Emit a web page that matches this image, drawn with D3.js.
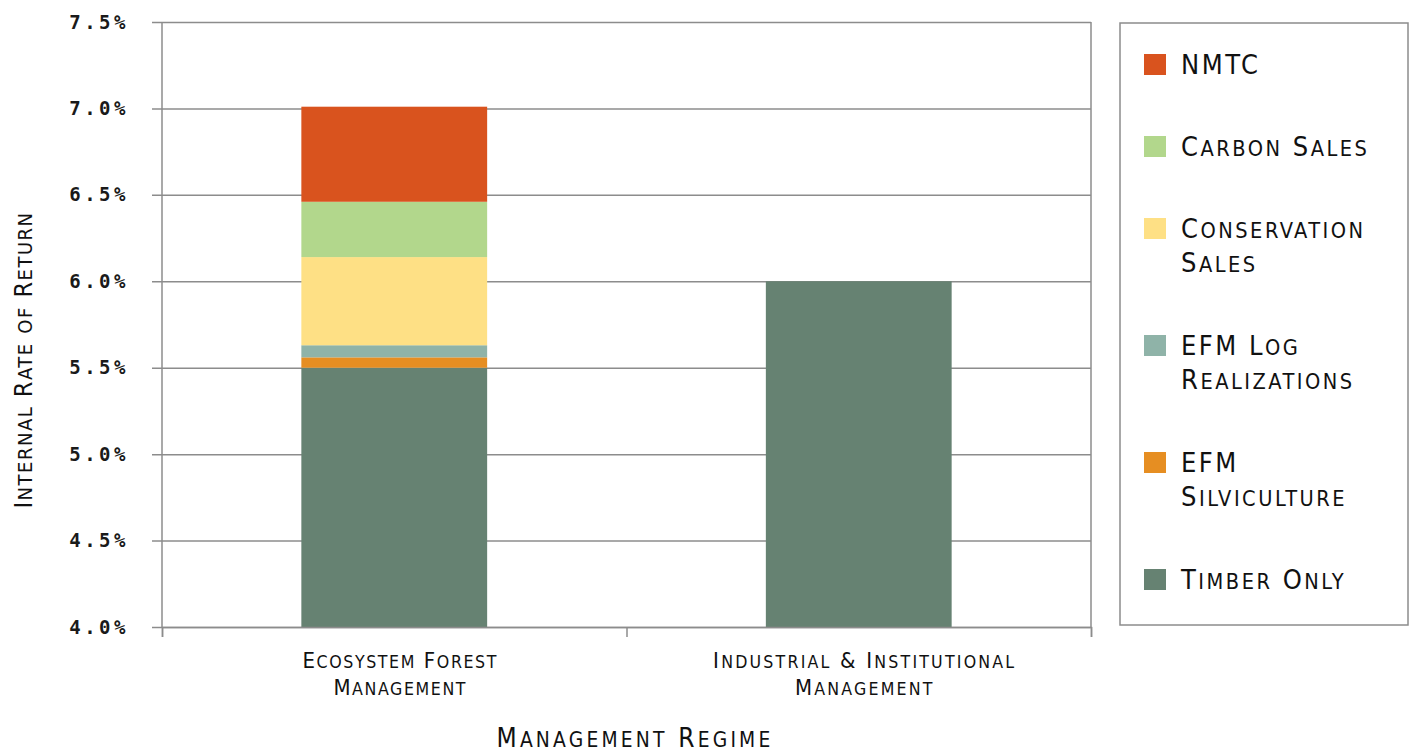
<!DOCTYPE html>
<html>
<head>
<meta charset="utf-8">
<script src="https://cdn.jsdelivr.net/npm/d3@7"></script>
<style>
    body { margin: 0; background: #fff; }
    .sc { font-family: "DejaVu Sans Condensed", "DejaVu Sans", sans-serif; fill: #111; }
    .ytick text { font-family: "DejaVu Sans Mono", monospace; font-weight: bold; font-size: 19px; letter-spacing: 3.5px; fill: #1a1a1a; }
</style>
</head>
<body>
<script>
// data (IRR in %)
const categories = ["Ecosystem Forest Management", "Industrial & Institutional Management"];
const categoryLines = [["Ecosystem Forest", "Management"], ["Industrial & Institutional", "Management"]];
const seriesKeys = ["timber", "silviculture", "logs", "conservation", "carbon", "nmtc"];
const timberOnly = [5.50, 6.00];
const efmSilviculture = [0.06, 0];
const efmLogRealizations = [0.07, 0];
const conservationSales = [0.51, 0];
const carbonSales = [0.32, 0];
const nmtc = [0.55, 0];
const yTicks = [4.0, 4.5, 5.0, 5.5, 6.0, 6.5, 7.0, 7.5];
const seriesColors = ["#668272", "#e68e22", "#8fb3a8", "#fee085", "#b2d78c", "#d9531e"];
const legendLabels = [["Timber Only"], ["EFM", "Silviculture"], ["EFM Log", "Realizations"], ["Conservation", "Sales"], ["Carbon Sales"], ["NMTC"]];

let margin = {top: 22, left: 162, right: 320, bottom: 125},
    width = 1411 - margin.left - margin.right,
    height = 752 - margin.top - margin.bottom;

let svg = d3.select("body").append("svg")
    .attr("width", 1411)
    .attr("height", 752);
let g = svg.append("g").attr("transform", "translate(" + margin.left + "," + margin.top + ")");

// small caps by hand: lowercase letters become smaller capitals
function smallCaps(textSel, str, size, x, y) {
    let runs = str.match(/[a-z]+|[^a-z]+/g) || [];
    runs.forEach(function (r, i) {
        let lower = /[a-z]/.test(r);
        let ts = textSel.append("tspan")
            .attr("font-size", (lower ? size * 0.8 : size) + "px")
            .text(r.toUpperCase());
        if (i === 0) ts.attr("x", x).attr("y", y);
    });
}

let rows = categories.map(function (c, i) {
    return {cat: c, timber: timberOnly[i], silviculture: efmSilviculture[i], logs: efmLogRealizations[i],
        conservation: conservationSales[i], carbon: carbonSales[i], nmtc: nmtc[i]};
});
let stacked = d3.stack().keys(seriesKeys)(rows);

let x = d3.scaleBand().domain(categories).range([0, width]).paddingInner(0.6).paddingOuter(0.3);
let xb = d3.scaleLinear().domain([0, categories.length]).range([0, width]);
let y = d3.scaleLinear().domain([4, 7.5]).range([height, 0]).clamp(true);
let color = d3.scaleOrdinal().domain(seriesKeys).range(seriesColors);

// grid + y axis
let yAxis = g.append("g").attr("class", "ytick")
    .call(d3.axisLeft(y).tickValues(yTicks).tickFormat(d => d.toFixed(1) + "%")
        .tickSizeInner(-width).tickSizeOuter(0).tickPadding(33));
yAxis.selectAll(".tick line").attr("x1", -10).attr("x2", width);
yAxis.selectAll("line, path").attr("stroke", "#8c8c8c").attr("stroke-width", 1.5);
yAxis.select(".domain").remove();

// bars
g.append("g").selectAll("g").data(stacked).enter().append("g")
    .attr("fill", d => color(d.key))
    .selectAll("rect").data(d => d).enter().append("rect")
    .attr("x", d => x(d.data.cat))
    .attr("width", x.bandwidth())
    .attr("y", d => y(d[1]))
    .attr("height", d => y(d[0]) - y(d[1]));

// frame: left, right, bottom with ticks
let xAxis = g.append("g").attr("transform", "translate(0," + height + ")")
    .call(d3.axisBottom(xb).ticks(categories.length).tickFormat("").tickSize(10));
xAxis.selectAll("line, path").attr("stroke", "#8c8c8c").attr("stroke-width", 1.5);
g.append("line").attr("x1", 0).attr("x2", 0).attr("y1", 0).attr("y2", height)
    .attr("stroke", "#8c8c8c").attr("stroke-width", 1.5);
g.append("line").attr("x1", width).attr("x2", width).attr("y1", 0).attr("y2", height)
    .attr("stroke", "#8c8c8c").attr("stroke-width", 1.5);

// category labels
categories.forEach(function (c, i) {
    let cx = x(c) + x.bandwidth() / 2 + 6;
    categoryLines[i].forEach(function (line, j) {
        let t = g.append("text").attr("class", "sc").attr("text-anchor", "middle")
            .style("letter-spacing", (i === 0 ? 1.6 : 2.2) + "px");
        smallCaps(t, line, 22, cx, height + 41 + j * 27);
    });
});

// axis titles
let xt = g.append("text").attr("class", "sc").attr("text-anchor", "middle").style("letter-spacing", "3.2px");
smallCaps(xt, "Management Regime", 26, 473, height + 120);
let yt = svg.append("text").attr("class", "sc").attr("text-anchor", "middle").style("letter-spacing", "1.5px")
    .attr("transform", "translate(32,360) rotate(-90)");
smallCaps(yt, "Internal Rate of Return", 25, 0, 0);

// legend
let lg = svg.append("g");
lg.append("rect").attr("x", 1120).attr("y", 23).attr("width", 288).attr("height", 602)
    .attr("fill", "#fff").attr("stroke", "#8c8c8c").attr("stroke-width", 1.5);
let order = seriesKeys.slice().reverse();
let itemY = 54;
order.forEach(function (k) {
    let i = seriesKeys.indexOf(k);
    lg.append("rect").attr("x", 1144).attr("y", itemY).attr("width", 22).attr("height", 21).attr("fill", color(k));
    legendLabels[i].forEach(function (line, j) {
        let t = lg.append("text").attr("class", "sc").style("letter-spacing", "2.5px");
        smallCaps(t, line, 27, 1181, itemY + 20 + j * 34);
    });
    itemY += 82 + 35 * (legendLabels[i].length - 1);
});
</script>
</body>
</html>
